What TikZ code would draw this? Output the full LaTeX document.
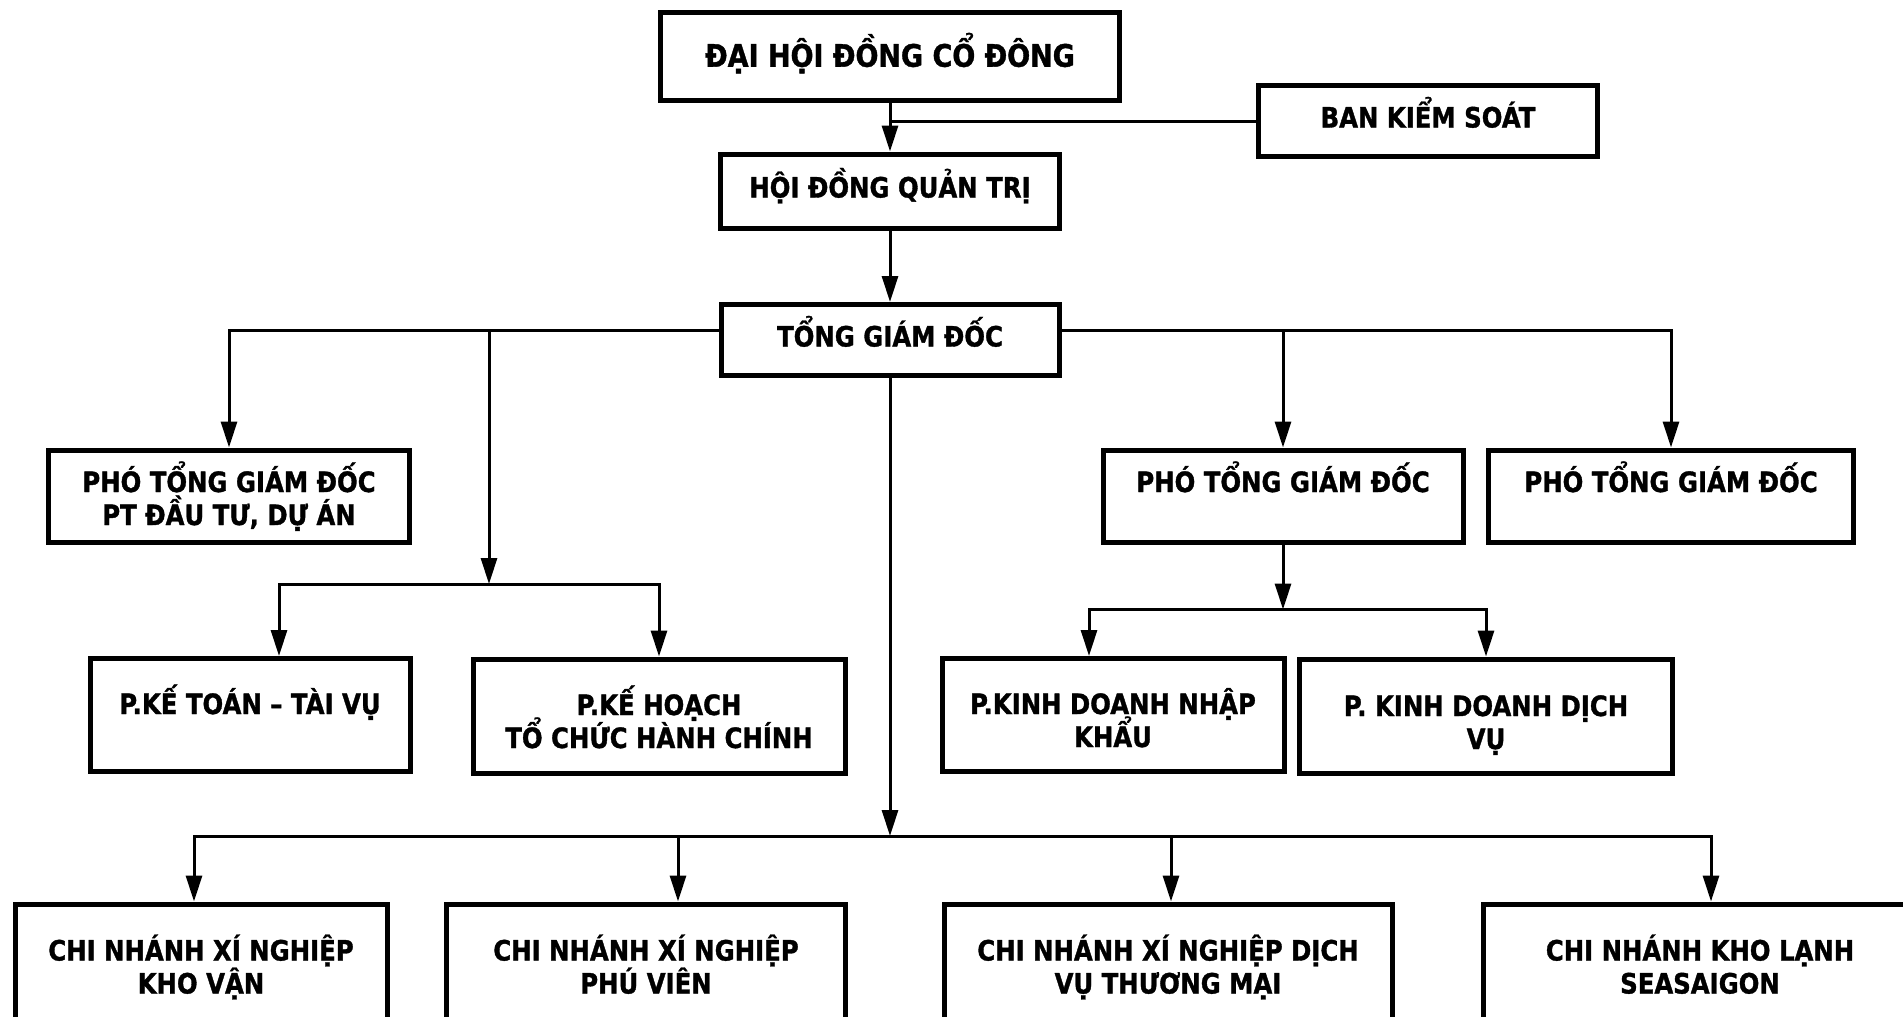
\documentclass[tikz,border=0pt]{standalone}
\usepackage{fontspec}
\newfontfamily\orgfont{DejaVu Sans}[FakeStretch=0.87, BoldFeatures={FakeBold=1.2}]
\usetikzlibrary{positioning,arrows.meta,calc}
\setlength{\lineskiplimit}{-60pt}

\begin{document}
\begin{tikzpicture}[
    x=1pt, y=-1pt,
    font=\orgfont\bfseries\fontsize{28}{33}\selectfont,
    box/.style 2 args={draw, line width=5pt, align=center, inner sep=0pt,
                       minimum width=#1pt, minimum height=#2pt},
    one/.style={text height=20pt, text depth=7pt},
    two/.style={text height=#1pt, text depth=0pt},
    two/.default=53,
    title/.style={font=\orgfont\bfseries\fontsize{31}{36}\selectfont,
                  text height=22.5pt, text depth=1pt},
    link/.style={->, >={Triangle[length=26pt,width=16pt]}, line width=3pt},
    tie/.style={line width=3pt},
  ]
  % --- page frame ---
  \fill[white] (0,0) rectangle (1903,1017);
  \useasboundingbox (0,0) rectangle (1903,1017);

  % --- top: shareholders, board, supervisors ---
  \node[box={459}{88}, title] (dhd)  at (890,56)   {ĐẠI HỘI ĐỒNG CỔ ĐÔNG};
  \node[box={339}{71}, one]   (bks)  at (1428,121) {BAN KIỂM SOÁT};
  \node[box={339}{74}, one]   (hdqt) at (890,191)  {HỘI ĐỒNG QUẢN TRỊ};
  \node[box={338}{71}, one]   (tgd)  at (890,340)  {TỔNG GIÁM ĐỐC};

  % --- deputies ---
  \node[box={361}{92}, two=58] (ptgd1) at (229,496)  {PHÓ TỔNG GIÁM ĐỐC\\PT ĐẦU TƯ, DỰ ÁN};
  \node[box={360}{92}, two=58] (ptgd2) at (1283,496) {PHÓ TỔNG GIÁM ĐỐC\\~};
  \node[box={365}{92}, two=58] (ptgd3) at (1671,496) {PHÓ TỔNG GIÁM ĐỐC\\~};

  % --- departments ---
  \node[box={320}{113}, two=64] (pkt) at (250,715)  {P.KẾ TOÁN – TÀI VỤ\\~};
  \node[box={372}{114}, two=64] (pkh) at (659,716)  {P.KẾ HOẠCH\\TỔ CHỨC HÀNH CHÍNH};
  \node[box={342}{113}, two=64] (pnk) at (1113,715) {P.KINH DOANH NHẬP\\KHẨU};
  \node[box={373}{114}, two=66] (pdv) at (1486,716) {P. KINH DOANH DỊCH\\VỤ};

  % --- branches ---
  \node[box={372}{126}, two] (cn1) at (201,967)  {CHI NHÁNH XÍ NGHIỆP\\KHO VẬN};
  \node[box={399}{126}, two] (cn2) at (646,967)  {CHI NHÁNH XÍ NGHIỆP\\PHÚ VIÊN};
  \node[box={448}{126}, two] (cn3) at (1168,967) {CHI NHÁNH XÍ NGHIỆP DỊCH\\VỤ THƯƠNG MẠI};
  \node[box={434}{126}, two] (cn4) at (1700,967) {CHI NHÁNH KHO LẠNH\\SEASAIGON};

  % --- forks ---
  \coordinate (busL)  at ([yshift=10pt]tgd.west);
  \coordinate (busR)  at ([yshift=10pt]tgd.east);
  \coordinate (kfork) at (489,584);
  \coordinate (nfork) at ([yshift=-65pt]ptgd2.south);
  \coordinate (cfork) at (890,836);

  % --- top connectors ---
  \draw[link] (dhd) -- (hdqt);
  \draw[tie]  (bks.west) -- (bks.west -| hdqt.north);
  \draw[link] (hdqt) -- (tgd);

  % --- general director to deputies ---
  \draw[link] (busL) -| (ptgd1.north);
  \draw[link] (kfork |- busL) -- (kfork);
  \draw[link] (busR) -| (ptgd3.north);
  \draw[link] (ptgd2.north |- busR) -- (ptgd2.north);

  % --- departments ---
  \draw[link] (kfork) -| ([xshift=29pt]pkt.north);
  \draw[link] (kfork) -| (pkh.north);
  \draw[link] (ptgd2.south) -- (nfork);
  \draw[link] (nfork) -| ([xshift=-24pt]pnk.north);
  \draw[link] (nfork) -| (pdv.north);

  % --- branches ---
  \draw[link] (tgd.south) -- (cfork);
  \foreach \n/\dx in {cn1/-7, cn2/32, cn3/3, cn4/11}
    \draw[link] (cfork) -| ([xshift=\dx pt]\n.north);
\end{tikzpicture}
\end{document}
